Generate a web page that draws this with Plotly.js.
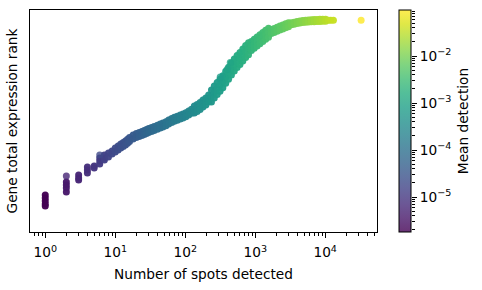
<!DOCTYPE html>
<html>
<head>
<meta charset="utf-8">
<script src="https://cdn.plot.ly/plotly-3.0.1.min.js"></script>
<style>
  html, body { margin: 0; padding: 0; background: #fff; }
  #chart { width: 482px; height: 290px; }
</style>
</head>
<body>
<div id="chart"></div>
<script>
// Number of spots in which each gene is detected (one entry per distinct count)
const spots = [1, 2, 3, 4, 5, 6, 7, 8, 9, 10,
  11, 12, 13, 14, 15, 16, 18, 20, 22, 24, 26, 28, 30, 33, 36, 40, 44, 48, 53, 58,
  64, 70, 77, 85, 93, 102, 112, 123, 135, 148, 163, 179, 197, 216, 237, 260, 286,
  314, 345, 379, 416, 457, 502, 551, 605, 665, 730, 802, 881, 968, 1063, 1168, 1283,
  1409, 1548, 1700, 1867, 2051, 2253, 2475, 2718, 2986, 3280, 3603, 3957, 4347, 4775,
  5245, 5761, 6328, 6951, 7635, 8387, 9212, 10119, 11115, 12000, 13100];

// Mean detection for genes at each spot count
const detection = [1.80e-6, 3.72e-6, 5.68e-6, 7.67e-6, 9.70e-6, 1.17e-5, 1.38e-5, 1.59e-5, 1.79e-5, 2.00e-5,
  2.21e-5, 2.43e-5, 2.64e-5, 2.85e-5, 3.06e-5, 3.28e-5, 3.71e-5, 4.14e-5, 4.57e-5, 5.01e-5,
  5.45e-5, 5.89e-5, 6.33e-5, 7.00e-5, 7.66e-5, 8.55e-5, 9.45e-5, 1.04e-4, 1.15e-4, 1.26e-4,
  1.40e-4, 1.54e-4, 1.70e-4, 1.88e-4, 2.07e-4, 2.28e-4, 2.52e-4, 2.77e-4, 3.06e-4, 3.37e-4,
  3.72e-4, 4.11e-4, 4.54e-4, 5.00e-4, 5.51e-4, 6.08e-4, 6.71e-4, 7.40e-4, 8.17e-4, 9.01e-4,
  9.94e-4, 1.10e-3, 1.21e-3, 1.33e-3, 1.47e-3, 1.62e-3, 1.79e-3, 1.98e-3, 2.18e-3, 2.40e-3,
  2.65e-3, 2.93e-3, 3.23e-3, 3.56e-3, 3.93e-3, 4.34e-3, 4.79e-3, 5.28e-3, 5.83e-3, 6.43e-3,
  7.09e-3, 7.82e-3, 8.63e-3, 9.52e-3, 1.05e-2, 1.16e-2, 1.28e-2, 1.41e-2, 1.56e-2, 1.72e-2,
  1.90e-2, 2.09e-2, 2.31e-2, 2.55e-2, 2.81e-2, 3.10e-2, 3.36e-2, 3.68e-2];

// Total-expression ranks of the genes found at each spot count
const ranks = [
  [3330, 3060, 2790, 2520, 2340], [4500, 4230, 3960, 3600], [5130, 4860, 4680],
  [5850, 5580, 5310], [5940, 5760], [6660, 6390, 6120], [6930, 6660, 6480],
  [7110, 6750], [7290, 7020], [7560, 7200],
  [7740, 7380], [7920, 7560], [8055, 7695], [8190, 7830], [8340, 7990], [8500, 8140],
  [8720, 8360], [8860, 8500], [8960, 8600], [9050, 8690], [9140, 8780], [9230, 8870],
  [9310, 8950], [9400, 9050], [9500, 9140], [9610, 9250], [9720, 9360], [9820, 9460],
  [9930, 9570], [10080, 9720], [10220, 9860], [10320, 9960], [10420, 10060],
  [10530, 10170], [10630, 10270], [10740, 10380], [10890, 10530], [11050, 10690],
  [11340, 11025, 10710], [11480, 11170, 10850], [11650, 11330, 11020],
  [11870, 11560, 11240], [12070, 11750, 11440], [12320, 12010, 11690],
  [12780, 12240, 11700], [13150, 12610, 12070], [13450, 12910, 12370],
  [13750, 13210, 12670], [14060, 13520, 12980], [14460, 13920, 13380],
  [14830, 14290, 13750], [15200, 14660, 14120], [15560, 15020, 14480],
  [15890, 15350, 14810], [16160, 15620, 15080], [16480, 15940, 15400],
  [16780, 16240, 15700], [17040, 16500, 15960], [17150, 16740, 16340],
  [17340, 16940, 16530], [17550, 17150, 16740], [17760, 17350, 16950],
  [17960, 17560, 17150], [18160, 17760, 17350], [18340, 17940, 17530],
  [18220, 17860], [18320, 17960], [18420, 18060], [18530, 18170], [18630, 18270],
  [18740, 18380], [18840, 18480], [18830, 18650], [18880, 18700], [18940, 18760],
  [18980, 18800], [19040, 18860], [19060, 18880], [19080, 18900], [19100, 18920],
  [19120, 18930], [19130, 18940], [19140, 18950], [19140, 18960], [19140, 18960],
  [19060], [19060], [19060]];

// Genes sitting off the main trend (the last one is the most widely detected gene)
const offSpots = [2, 6, 316, 398, 440, 32600];
const offRanks = [5040, 6930, 13950, 14650, 15250, 19060];
const offDetection = [5.5e-6, 1.9e-5, 7.4e-4, 9.5e-4, 1.05e-3, 9.55e-2];

// Axis ticks
const xTickVals = [1, 10, 100, 1000, 10000];
const xTickText = ['10<sup>0</sup>', '10<sup>1</sup>', '10<sup>2</sup>', '10<sup>3</sup>', '10<sup>4</sup>'];
const cTickVals = [1e-5, 1e-4, 1e-3, 1e-2];
const cTickText = ['10<sup>\u22125</sup>', '10<sup>\u22124</sup>', '10<sup>\u22123</sup>', '10<sup>\u22122</sup>'];
const detMin = 1.8e-6, detMax = 9.55e-2;

// minor ticks for log axes: 2..9 within each decade
function minorLog(lo, hi) {
  const out = [];
  for (let e = Math.floor(Math.log10(lo)) - 1; e <= Math.ceil(Math.log10(hi)); e++) {
    for (let m = 2; m <= 9; m++) {
      const v = m * Math.pow(10, e);
      if (v >= lo && v <= hi) out.push(v);
    }
  }
  return out;
}

const viridis = ['#440154', '#48186a', '#472d7b', '#424086', '#3b528b', '#33638d', '#2c728e',
  '#26828e', '#21918c', '#1fa088', '#28ae80', '#3fbc73', '#5ec962', '#84d44b', '#addc30',
  '#d8e219', '#fde725'];
function rgba(hex, a) {
  const n = parseInt(hex.slice(1), 16);
  return `rgba(${(n >> 16) & 255},${(n >> 8) & 255},${n & 255},${a})`;
}
const scaleOf = a => viridis.map((h, i) => [i / (viridis.length - 1), rgba(h, a)]);

// dense trend: overlapping markers read as a solid band
const xs = [], ys = [], cs = [];
spots.forEach((s, i) => ranks[i].forEach(r => { xs.push(s); ys.push(r); cs.push(Math.log10(detection[i])); }));

const W = 482, L = 30, R = 30;
const plotW = W - L - R;
const px = p => (p - L) / plotW;   // page x -> paper fraction

const font = { family: 'DejaVu Sans, sans-serif', size: 13.7, color: '#000' };
const cmin = Math.log10(detMin), cmax = Math.log10(detMax);

const trend = {
  type: 'scatter', mode: 'markers', x: xs, y: ys, hoverinfo: 'skip', showlegend: false,
  marker: { size: 7, color: cs, colorscale: scaleOf(0.97), cmin: cmin, cmax: cmax, line: { width: 0 }, showscale: false }
};

const outliers = {
  type: 'scatter', mode: 'markers', x: offSpots, y: offRanks, hoverinfo: 'skip', showlegend: false,
  marker: {
    size: 7, color: offDetection.map(Math.log10), colorscale: scaleOf(0.8), cmin: cmin, cmax: cmax,
    line: { width: 0 },
    colorbar: {
      x: px(399), xanchor: 'left', xpad: 0, ypad: 0,
      y: 0.5, yanchor: 'middle', len: 1, lenmode: 'fraction',
      thickness: 12, thicknessmode: 'pixels',
      outlinewidth: 1, outlinecolor: '#000',
      ticks: '', showticklabels: false
    }
  }
};

// carrier for the colour axis ticks
const cAxisCarrier = { type: 'scatter', x: [null], y: [null], yaxis: 'y2', hoverinfo: 'skip', showlegend: false };

const layout = {
  width: W, height: 290,
  margin: { l: L, r: R, t: 10, b: 58 },
  paper_bgcolor: '#fff', plot_bgcolor: '#fff',
  font: font,
  xaxis: {
    type: 'log', domain: [0, px(377)], range: [-0.218, 4.74],
    tickvals: xTickVals, ticktext: xTickText,
    ticks: 'outside', ticklen: 5, tickwidth: 1, tickcolor: '#000', ticklabelstandoff: 3,
    minor: { tickvals: minorLog(0.6, 55000), ticks: 'outside', ticklen: 3, tickwidth: 1, tickcolor: '#000' },
    showline: true, linecolor: '#000', linewidth: 1, mirror: true,
    showgrid: false, zeroline: false,
    tickfont: font,
    title: { text: 'Number of spots detected', font: font, standoff: 9 }
  },
  yaxis: {
    range: [0, 19980], showticklabels: false, ticks: '',
    showline: true, linecolor: '#000', linewidth: 1, mirror: true,
    showgrid: false, zeroline: false,
    title: { text: 'Gene total expression rank', font: font, standoff: 8 }
  },
  yaxis2: {
    type: 'log', overlaying: 'y', anchor: 'free', position: px(411), side: 'right',
    range: [cmin, cmax],
    tickvals: cTickVals, ticktext: cTickText,
    ticks: 'outside', ticklen: 5, tickwidth: 1, tickcolor: '#000',
    minor: { tickvals: minorLog(detMin, detMax), ticks: 'outside', ticklen: 3, tickwidth: 1, tickcolor: '#000' },
    showline: false, showgrid: false, zeroline: false,
    tickfont: font,
    title: { text: 'Mean detection', font: font, standoff: 8 }
  }
};

Plotly.newPlot('chart', [trend, outliers, cAxisCarrier], layout, { displayModeBar: false, staticPlot: true });
</script>
</body>
</html>
